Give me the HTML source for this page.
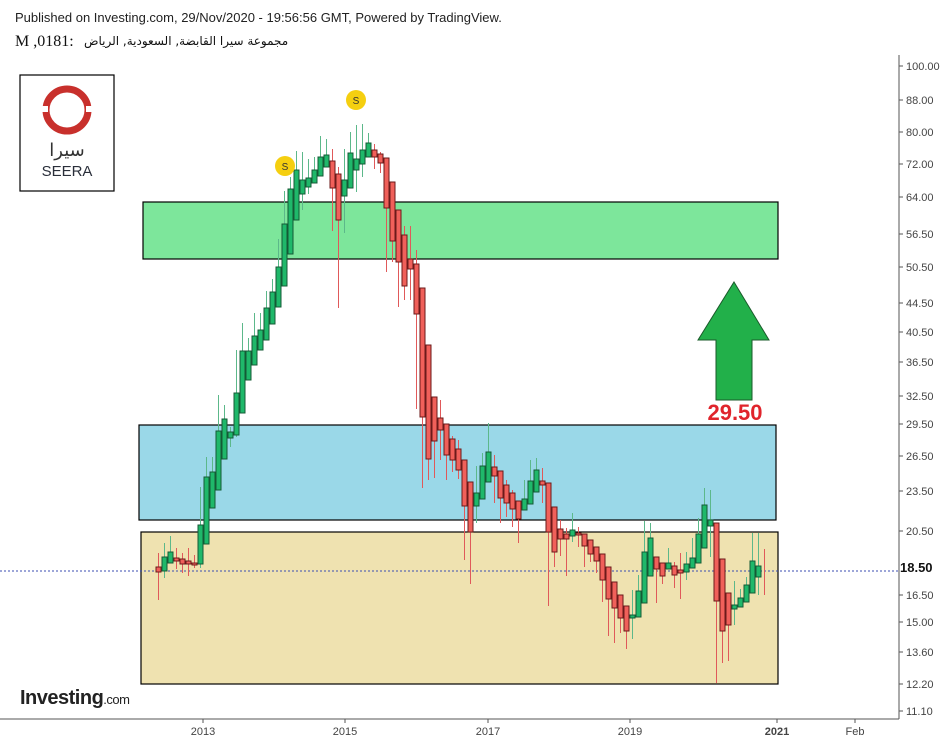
<!DOCTYPE html>
<html><head><meta charset="utf-8"><style>
html,body{margin:0;padding:0;background:#fff;}
body{width:950px;height:743px;position:relative;overflow:hidden;font-family:"Liberation Sans",sans-serif;}
</style></head><body>
<svg width="950" height="743" viewBox="0 0 950 743" xmlns="http://www.w3.org/2000/svg" style="position:absolute;left:0;top:0">
<style>
.gw{stroke:#5cb88a;stroke-width:1;fill:none}
.rw{stroke:#e0595a;stroke-width:1;fill:none}
.g rect{fill:#1fb86a;stroke:#145a35;stroke-width:1}
.r rect{fill:#f0605a;stroke:#6b1a1a;stroke-width:1}
</style>
<text x="15" y="22" font-family="Liberation Sans, sans-serif" font-size="13" fill="#222">Published on Investing.com, 29/Nov/2020 - 19:56:56 GMT, Powered by TradingView.</text>
<text x="15" y="46" font-family="Liberation Serif, DejaVu Serif, serif" font-size="16" fill="#111">M ,0181:</text>
<text x="84" y="45" font-family="DejaVu Sans, sans-serif" font-size="12" fill="#111">مجموعة سيرا القابضة, السعودية, الرياض</text>

<rect x="143" y="202" width="635" height="57" fill="#7de69b" stroke="#000" stroke-width="1.2"/>
<rect x="139" y="425" width="637" height="95" fill="#9ad8e8" stroke="#000" stroke-width="1.2"/>
<rect x="141" y="532" width="637" height="152" fill="#efe2b0" stroke="#000" stroke-width="1.2"/>
<line x1="0" y1="571" x2="899" y2="571" stroke="#3b4db0" stroke-width="1" stroke-dasharray="2,2"/>

<line x1="899" y1="55" x2="899" y2="719" stroke="#555" stroke-width="1"/>
<line x1="0" y1="719" x2="899" y2="719" stroke="#555" stroke-width="1"/>
<g font-family="Liberation Sans, sans-serif" font-size="11" fill="#444">
<g stroke="#555">
<line x1="899" y1="66" x2="903" y2="66"/><line x1="899" y1="100" x2="903" y2="100"/><line x1="899" y1="132" x2="903" y2="132"/><line x1="899" y1="164" x2="903" y2="164"/><line x1="899" y1="197" x2="903" y2="197"/><line x1="899" y1="234" x2="903" y2="234"/><line x1="899" y1="267" x2="903" y2="267"/><line x1="899" y1="303" x2="903" y2="303"/><line x1="899" y1="332" x2="903" y2="332"/><line x1="899" y1="362" x2="903" y2="362"/><line x1="899" y1="396" x2="903" y2="396"/><line x1="899" y1="424" x2="903" y2="424"/><line x1="899" y1="456" x2="903" y2="456"/><line x1="899" y1="491" x2="903" y2="491"/><line x1="899" y1="531" x2="903" y2="531"/><line x1="899" y1="595" x2="903" y2="595"/><line x1="899" y1="622" x2="903" y2="622"/><line x1="899" y1="652" x2="903" y2="652"/><line x1="899" y1="684" x2="903" y2="684"/><line x1="899" y1="711" x2="903" y2="711"/>
<line x1="203" y1="719" x2="203" y2="723"/><line x1="345" y1="719" x2="345" y2="723"/><line x1="488" y1="719" x2="488" y2="723"/><line x1="630" y1="719" x2="630" y2="723"/><line x1="777" y1="719" x2="777" y2="723"/><line x1="855" y1="719" x2="855" y2="723"/>
</g>
<text x="906" y="70">100.00</text><text x="906" y="104">88.00</text><text x="906" y="136">80.00</text><text x="906" y="168">72.00</text><text x="906" y="201">64.00</text><text x="906" y="238">56.50</text><text x="906" y="271">50.50</text><text x="906" y="307">44.50</text><text x="906" y="336">40.50</text><text x="906" y="366">36.50</text><text x="906" y="400">32.50</text><text x="906" y="428">29.50</text><text x="906" y="460">26.50</text><text x="906" y="495">23.50</text><text x="906" y="535">20.50</text><text x="906" y="599">16.50</text><text x="906" y="626">15.00</text><text x="906" y="656">13.60</text><text x="906" y="688">12.20</text><text x="906" y="715">11.10</text>
<text x="203" y="735" text-anchor="middle">2013</text><text x="345" y="735" text-anchor="middle">2015</text><text x="488" y="735" text-anchor="middle">2017</text><text x="630" y="735" text-anchor="middle">2019</text><text x="777" y="735" text-anchor="middle" font-weight="bold">2021</text><text x="855" y="735" text-anchor="middle">Feb</text>
</g>
<text x="900" y="572" font-family="Liberation Sans, sans-serif" font-size="13" font-weight="bold" fill="#111">18.50</text>

<!-- green wicks -->
<path class="gw" d="M164.5 543V578M170.5 536V563M200.5 487V568M206.5 457V544M212.5 457V508M218.5 395V490M224.5 405V459M230.5 427V447M236.5 350V437M242.5 323V413M248.5 338V380M254.5 313V365M260.5 313V350M266.5 291V340M272.5 279V324M278.5 239V307M284.5 191V286M290.5 177V254M296.5 151V220M302.5 152V210M308.5 159V194M314.5 157V183M320.5 136V176M326.5 139V167M344.5 149V233M350.5 132V188M356.5 125V192M362.5 124V177M368.5 133V157M476.5 466V523M482.5 453V499M488.5 423V482M524.5 480V510M530.5 460V504M536.5 458V492M572.5 513V542M632.5 590V639M638.5 575V617M644.5 521V603M650.5 523V576M668.5 548V569M686.5 552V580M692.5 538V568M698.5 518V563M704.5 488V548M710.5 490V557M734.5 581V625M740.5 589V607M746.5 577V602M752.5 533V593M758.5 533V595"/>
<!-- red wicks -->
<path class="rw" d="M158.5 553V600M176.5 548V569M182.5 553V573M188.5 548V576M194.5 555V568M332.5 149V231M338.5 167V308M374.5 144V169M380.5 152V173M386.5 158V272M392.5 182V262M398.5 210V307M404.5 226V300M410.5 226V300M416.5 250V409M422.5 288V488M428.5 345V480M434.5 397V478M440.5 400V460M446.5 424V480M452.5 436V472M458.5 440V479M464.5 460V560M470.5 482V584M494.5 455V503M500.5 471V523M506.5 480V517M512.5 490V527M518.5 501V543M542.5 468V503M548.5 483V606M554.5 507V567M560.5 520V556M566.5 528V576M578.5 527V547M584.5 534V567M590.5 540V562M596.5 547V573M602.5 554V602M608.5 567V636M614.5 582V643M620.5 595V633M626.5 606V649M656.5 557V603M662.5 563V584M674.5 562V588M680.5 553V599M716.5 523V683M722.5 559V663M728.5 593V661M764.5 549V595"/>

<g class="g">
<rect x="162" y="557" width="5" height="14"/><rect x="168" y="552" width="5" height="11"/><rect x="198" y="525" width="5" height="39"/><rect x="204" y="477" width="5" height="67"/><rect x="210" y="472" width="5" height="36"/><rect x="216" y="431" width="5" height="59"/><rect x="222" y="419" width="5" height="40"/><rect x="228" y="432" width="5" height="6"/><rect x="234" y="393" width="5" height="42"/><rect x="240" y="351" width="5" height="62"/><rect x="246" y="351" width="5" height="29"/><rect x="252" y="336" width="5" height="29"/><rect x="258" y="330" width="5" height="20"/><rect x="264" y="308" width="5" height="32"/><rect x="270" y="292" width="5" height="32"/><rect x="276" y="267" width="5" height="40"/><rect x="282" y="224" width="5" height="62"/><rect x="288" y="189" width="5" height="65"/><rect x="294" y="170" width="5" height="50"/><rect x="300" y="180" width="5" height="14"/><rect x="306" y="178" width="5" height="9"/><rect x="312" y="170" width="5" height="13"/><rect x="318" y="157" width="5" height="19"/><rect x="324" y="155" width="5" height="12"/><rect x="342" y="180" width="5" height="16"/><rect x="348" y="153" width="5" height="35"/><rect x="354" y="159" width="5" height="11"/><rect x="360" y="150" width="5" height="14"/><rect x="366" y="143" width="5" height="14"/><rect x="474" y="493" width="5" height="13"/><rect x="480" y="466" width="5" height="33"/><rect x="486" y="452" width="5" height="30"/><rect x="522" y="499" width="5" height="11"/><rect x="528" y="481" width="5" height="23"/><rect x="534" y="470" width="5" height="22"/><rect x="570" y="530" width="5" height="6"/><rect x="630" y="615" width="5" height="3"/><rect x="636" y="591" width="5" height="26"/><rect x="642" y="552" width="5" height="51"/><rect x="648" y="538" width="5" height="38"/><rect x="666" y="563" width="5" height="6"/><rect x="684" y="564" width="5" height="8"/><rect x="690" y="558" width="5" height="10"/><rect x="696" y="534" width="5" height="29"/><rect x="702" y="505" width="5" height="43"/><rect x="708" y="520" width="5" height="6"/><rect x="732" y="605" width="5" height="4"/><rect x="738" y="598" width="5" height="9"/><rect x="744" y="585" width="5" height="17"/><rect x="750" y="561" width="5" height="32"/><rect x="756" y="566" width="5" height="11"/>
</g>
<g class="r">
<rect x="156" y="567" width="5" height="5"/><rect x="174" y="558" width="5" height="3"/><rect x="180" y="559" width="5" height="5"/><rect x="186" y="561" width="5" height="3"/><rect x="192" y="563" width="5" height="2"/><rect x="330" y="161" width="5" height="27"/><rect x="336" y="174" width="5" height="46"/><rect x="372" y="150" width="5" height="7"/><rect x="378" y="154" width="5" height="9"/><rect x="384" y="158" width="5" height="50"/><rect x="390" y="182" width="5" height="59"/><rect x="396" y="210" width="5" height="52"/><rect x="402" y="235" width="5" height="51"/><rect x="408" y="259" width="5" height="10"/><rect x="414" y="264" width="5" height="50"/><rect x="420" y="288" width="5" height="129"/><rect x="426" y="345" width="5" height="114"/><rect x="432" y="397" width="5" height="44"/><rect x="438" y="418" width="5" height="12"/><rect x="444" y="424" width="5" height="31"/><rect x="450" y="439" width="5" height="21"/><rect x="456" y="449" width="5" height="21"/><rect x="462" y="460" width="5" height="46"/><rect x="468" y="482" width="5" height="50"/><rect x="492" y="467" width="5" height="9"/><rect x="498" y="471" width="5" height="27"/><rect x="504" y="485" width="5" height="18"/><rect x="510" y="493" width="5" height="16"/><rect x="516" y="501" width="5" height="18"/><rect x="540" y="481" width="5" height="4"/><rect x="546" y="483" width="5" height="49"/><rect x="552" y="507" width="5" height="45"/><rect x="558" y="529" width="5" height="10"/><rect x="564" y="534" width="5" height="5"/><rect x="576" y="533" width="5" height="2"/><rect x="582" y="534" width="5" height="12"/><rect x="588" y="540" width="5" height="14"/><rect x="594" y="547" width="5" height="14"/><rect x="600" y="554" width="5" height="26"/><rect x="606" y="567" width="5" height="32"/><rect x="612" y="582" width="5" height="26"/><rect x="618" y="595" width="5" height="23"/><rect x="624" y="606" width="5" height="25"/><rect x="654" y="557" width="5" height="12"/><rect x="660" y="563" width="5" height="13"/><rect x="672" y="566" width="5" height="9"/><rect x="678" y="570" width="5" height="3"/><rect x="714" y="523" width="5" height="78"/><rect x="720" y="559" width="5" height="72"/><rect x="726" y="593" width="5" height="32"/>
</g>

<circle cx="285" cy="166" r="10" fill="#f5cf10"/><text x="285" y="170" text-anchor="middle" font-size="10" font-family="Liberation Sans, sans-serif" fill="#333">S</text>
<circle cx="356" cy="100" r="10" fill="#f5cf10"/><text x="356" y="104" text-anchor="middle" font-size="10" font-family="Liberation Sans, sans-serif" fill="#333">S</text>

<polygon points="734,282 769,340 752,340 752,400 716,400 716,340 698,340" fill="#22b04a" stroke="#1a5a2a" stroke-width="1"/>
<text x="735" y="420" text-anchor="middle" font-family="Liberation Sans, sans-serif" font-size="22" font-weight="bold" fill="#e0242c">29.50</text>

<rect x="20" y="75" width="94" height="116" fill="#fff" stroke="#000" stroke-width="1.2"/>
<circle cx="67" cy="110" r="21" fill="none" stroke="#c8302c" stroke-width="7"/>
<rect x="42" y="106" width="6" height="6" fill="#fff"/><rect x="86" y="106" width="6" height="6" fill="#fff"/>
<text x="67" y="156" text-anchor="middle" font-family="DejaVu Sans, sans-serif" font-size="18" fill="#333">سيرا</text>
<text x="67" y="176" text-anchor="middle" font-family="Liberation Sans, sans-serif" font-size="15" fill="#2a2f3a">SEERA</text>

<text x="20" y="704" font-family="Liberation Sans, sans-serif" font-size="20" font-weight="bold" fill="#222" letter-spacing="-0.5">Investing<tspan font-size="13" font-weight="normal">.com</tspan></text>
</svg>
</body></html>
